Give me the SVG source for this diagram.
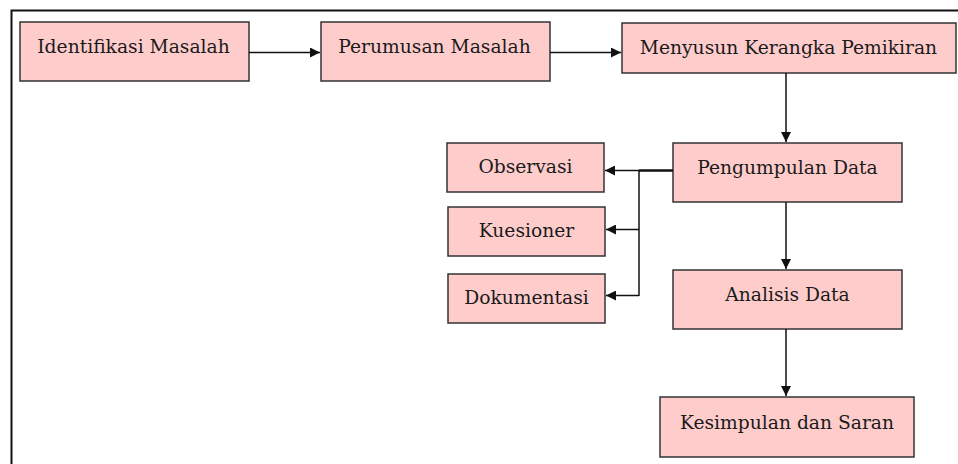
<svg xmlns="http://www.w3.org/2000/svg" width="958" height="464" viewBox="0 0 958 464">
<style>
.box{fill:#FFCCCC;stroke:#333;stroke-width:1.5}
.t{font-family:'DejaVu Serif',serif;font-size:18.7px;fill:#1a1a1a;text-anchor:middle}
.c{fill:none;stroke:#111;stroke-width:1.5}
</style>
<defs>
<marker id="ah" viewBox="0 0 10 10" refX="10" refY="5" markerWidth="10" markerHeight="10" markerUnits="userSpaceOnUse" orient="auto">
<path d="M0,0 L10,5 L0,10 Z" fill="#111"/>
</marker>
</defs>
<rect width="958" height="464" fill="#fff"/>
<path d="M11.5,464 V10.5 H958" fill="none" stroke="#111" stroke-width="2"/>
<g id="n1"><rect class="box" x="20" y="22" width="229" height="59"/><text class="t" x="133.5" y="52.5">Identifikasi Masalah</text></g>
<g id="n2"><rect class="box" x="321" y="22" width="229" height="59"/><text class="t" x="434.5" y="52.5">Perumusan Masalah</text></g>
<g id="n3"><rect class="box" x="622" y="23" width="334" height="50"/><text class="t" x="788.5" y="54">Menyusun Kerangka Pemikiran</text></g>
<g id="n4"><rect class="box" x="673" y="143" width="229" height="59"/><text class="t" x="787.5" y="174">Pengumpulan Data</text></g>
<g id="n5"><rect class="box" x="673" y="270" width="229" height="59"/><text class="t" x="787.5" y="301">Analisis Data</text></g>
<g id="n6"><rect class="box" x="660" y="397" width="254" height="60"/><text class="t" x="787" y="429">Kesimpulan dan Saran</text></g>
<g id="n7"><rect class="box" x="447" y="143" width="157" height="49"/><text class="t" x="525.5" y="173">Observasi</text></g>
<g id="n8"><rect class="box" x="448" y="207" width="157" height="49"/><text class="t" x="526.5" y="237">Kuesioner</text></g>
<g id="n9"><rect class="box" x="448" y="274" width="157" height="49"/><text class="t" x="526.5" y="304">Dokumentasi</text></g>
<g id="connectors">
<path class="c" d="M249,52.5 H320" marker-end="url(#ah)"/>
<path class="c" d="M550,52.5 H621" marker-end="url(#ah)"/>
<path class="c" d="M786,73 V142" marker-end="url(#ah)"/>
<path class="c" d="M786,202 V269" marker-end="url(#ah)"/>
<path class="c" d="M786,329 V396" marker-end="url(#ah)"/>
<path d="M673,170.5 H639" fill="none" stroke="#111" stroke-width="2.5"/>
<path class="c" d="M639,170.5 H605" marker-end="url(#ah)"/>
<path class="c" d="M639,170 V296"/>
<path class="c" d="M639,229.5 H606" marker-end="url(#ah)"/>
<path class="c" d="M639,295.5 H606" marker-end="url(#ah)"/>
</g>
</svg>
